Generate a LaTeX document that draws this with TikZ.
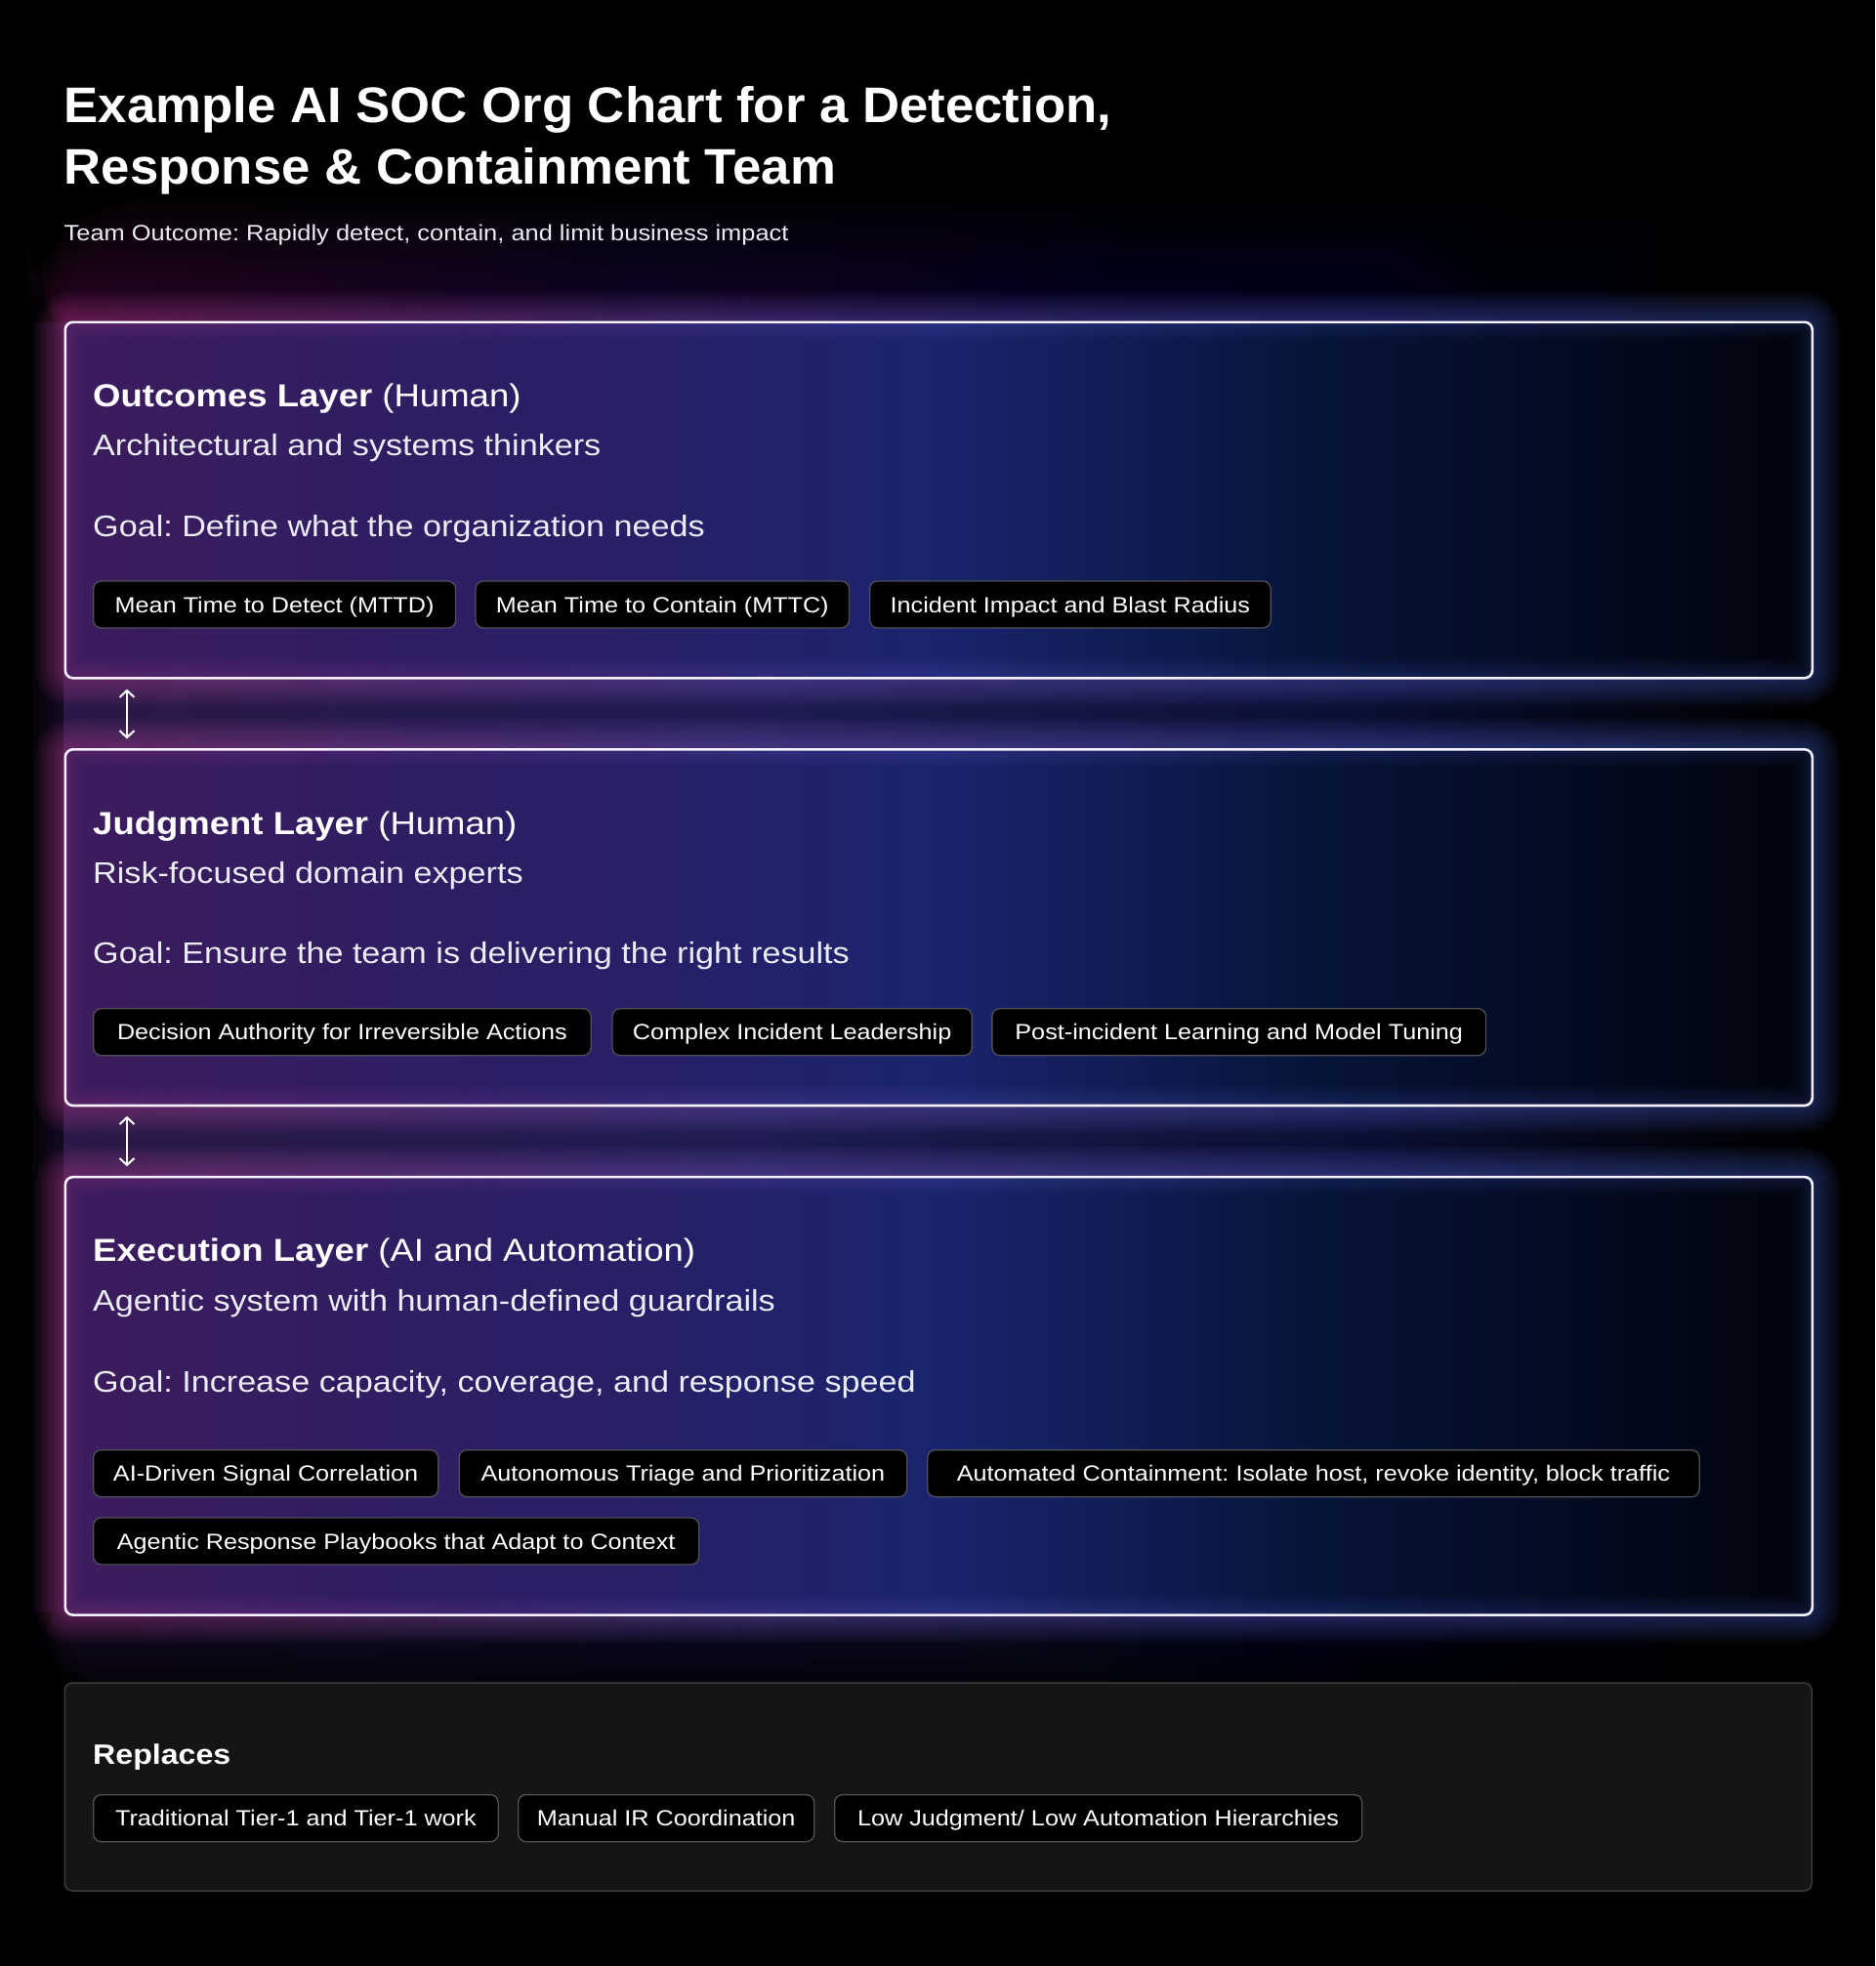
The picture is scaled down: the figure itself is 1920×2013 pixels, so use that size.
\documentclass[tikz,border=0pt]{standalone}
\usepackage{fontspec}
\setmainfont{Liberation Sans}[FakeStretch=1.12]
\newfontfamily\titlefont{Liberation Sans}[FakeStretch=1.03]
\usetikzlibrary{arrows.meta}
\frenchspacing

\definecolor{hzA}{HTML}{2C1848}
\definecolor{hzB}{HTML}{1E1C52}
\definecolor{hzC}{HTML}{0A1034}
\definecolor{htA}{HTML}{5A1A4A}
\definecolor{htB}{HTML}{2A1A58}
\definecolor{htC}{HTML}{0C1440}
\definecolor{bxA}{HTML}{3C1C5C}
\definecolor{bxB}{HTML}{2C1E64}
\definecolor{bxC}{HTML}{1A246E}
\definecolor{bxD}{HTML}{061438}
\definecolor{bxE}{HTML}{01030C}
\definecolor{glP}{HTML}{D04C9C}
\definecolor{glL}{HTML}{8A68D8}
\definecolor{glB}{HTML}{4A6CE0}
\definecolor{frame}{HTML}{F4F0FF}
\definecolor{chipgray}{HTML}{50505A}
\definecolor{repbg}{HTML}{151515}
\definecolor{repline}{HTML}{3C3C3C}
\definecolor{subtext}{HTML}{ECECF4}

\pgfdeclarehorizontalshading{hazeshade}{100bp}{color(0bp)=(hzA); color(25bp)=(hzA); color(45bp)=(hzB); color(62bp)=(hzC); color(75bp)=(black); color(100bp)=(black)}
\pgfdeclarehorizontalshading{hazetop}{100bp}{color(0bp)=(htA); color(25bp)=(htA); color(42bp)=(htB); color(62bp)=(htC); color(75bp)=(black); color(100bp)=(black)}
\pgfdeclarehorizontalshading{boxshade}{100bp}{color(0bp)=(bxA); color(25bp)=(bxA); color(37.5bp)=(bxB); color(50bp)=(bxC); color(61bp)=(bxD); color(75bp)=(bxE); color(100bp)=(bxE)}
\pgfdeclarehorizontalshading{glowshade}{100bp}{color(0bp)=(glP); color(25bp)=(glP); color(45bp)=(glL); color(75bp)=(glB); color(100bp)=(glB)}

\newcommand\glowrings[4]{%
  \foreach \d in {3,6,...,30}{%
    \pgfmathsetmacro\ro{\d+8}%
    \shade[even odd rule, shading=glowshade, fill opacity=0.045]
      [rounded corners=\ro pt] (#1-\d,#2-\d) rectangle (#3+\d,#4+\d)
      [rounded corners=8pt] (#1,#2) rectangle (#3,#4);
  }%
  \foreach \d in {3,6,...,18}{%
    \shade[even odd rule, shading=glowshade, fill opacity=0.03]
      [rounded corners=8pt] (#1,#2) rectangle (#3,#4)
      [sharp corners] (#1+\d,#2+\d) rectangle (#3-\d,#4-\d);
  }}

\begin{document}
\begin{tikzpicture}[x=1pt,y=-1pt,
  layerframe/.style={draw=frame, line width=2.6pt, rounded corners=8pt, inner sep=0pt, anchor=north west, minimum width=1789pt},
  repframe/.style={draw=repline, fill=repbg, line width=1.5pt, rounded corners=8pt, inner sep=0pt, anchor=north west, minimum width=1789pt},
  chip/.style={draw=chipgray, fill=black, line width=1.3pt, rounded corners=8pt, minimum height=48pt, inner xsep=0pt, inner ysep=0pt, text height=16.1pt, text depth=0pt, font=\fontsize{22.5}{27}\selectfont, text=white, anchor=north west},
  headtxt/.style={anchor=base west, inner sep=0pt, text=white, font=\fontsize{32.6}{38}\selectfont},
  bodytxt/.style={anchor=base west, inner sep=0pt, text=subtext, font=\fontsize{30.5}{36}\selectfont},
  updown/.style={draw=white, line width=2pt, {Straight Barb[length=7pt,width=15pt]}-{Straight Barb[length=7pt,width=15pt]}}
]
\fill[black] (0,0) rectangle (1920,2013);
\useasboundingbox (0,0) rectangle (1920,2013);

% background haze (soft stacked layers above and below, band between)
\foreach \d in {8,16,...,128}{%
  \pgfmathsetmacro\ro{\d}%
  \shade[shading=hazetop, fill opacity=0.045, rounded corners=\ro pt]
    (65.5-\d*0.3,330-\d) rectangle (1854.5+\d*0.3,360);
}
\foreach \d in {8,16,24,32}{%
  \shade[shading=hazeshade, fill opacity=0.14] (65.5-\d,330) rectangle (1854.5+\d,1650);
}
\shade[shading=hazeshade] (65.5,330) rectangle (1854.5,1650);
\foreach \d in {8,16,...,88}{%
  \pgfmathsetmacro\ro{\d}%
  \shade[shading=hazeshade, fill opacity=0.06, rounded corners=\ro pt]
    (65.5-\d*0.3,1620) rectangle (1854.5+\d*0.3,1652+\d);
}

% title
\node[anchor=base west, inner sep=0pt, align=left, text=white, font=\titlefont\bfseries\fontsize{51.2}{63}\selectfont] (title) at (65.5,188) {Example AI SOC Org Chart for a Detection,\\Response \& Containment Team};
\node[anchor=base west, inner sep=0pt, text=subtext, font=\fontsize{22.7}{27}\selectfont] (subtitle) at (65.5,246) {Team Outcome: Rapidly detect, contain, and limit business impact};

% ---------- layer 1
\shade[shading=boxshade, rounded corners=8pt] (65.5,328.5) rectangle (1854.5,693);
\glowrings{65.5}{328.5}{1854.5}{693}
\node[layerframe, minimum height=364.5pt] (L1) at (65.5,328.5) {};
\node[headtxt] (h1) at (95,416.7) {\textbf{Outcomes Layer} (Human)};
\node[bodytxt] (s1) at (95,466.9) {Architectural and systems thinkers};
\node[bodytxt] (g1) at (95,549.3) {Goal: Define what the organization needs};
\node[chip, minimum width=370.9pt] (c11) at (95,594.3) {Mean Time to Detect (MTTD)};
\node[chip, minimum width=382.5pt] (c12) at (486.4,594.3) {Mean Time to Contain (MTTC)};
\node[chip, minimum width=410.5pt] (c13) at (890,594.3) {Incident Impact and Blast Radius};

% ---------- layer 2
\shade[shading=boxshade, rounded corners=8pt] (65.5,766) rectangle (1854.5,1130.7);
\glowrings{65.5}{766}{1854.5}{1130.7}
\node[layerframe, minimum height=364.7pt] (L2) at (65.5,766) {};
\node[headtxt] (h2) at (95,854.3) {\textbf{Judgment Layer} (Human)};
\node[bodytxt] (s2) at (95,904.4) {Risk-focused domain experts};
\node[bodytxt] (g2) at (95,986.8) {Goal: Ensure the team is delivering the right results};
\node[chip, minimum width=509.5pt] (c21) at (95,1032) {Decision Authority for Irreversible Actions};
\node[chip, minimum width=368.4pt] (c22) at (626.3,1032) {Complex Incident Leadership};
\node[chip, minimum width=505.7pt] (c23) at (1015.2,1032) {Post-incident Learning and Model Tuning};

% ---------- layer 3
\shade[shading=boxshade, rounded corners=8pt] (65.5,1203.8) rectangle (1854.5,1652.3);
\glowrings{65.5}{1203.8}{1854.5}{1652.3}
\node[layerframe, minimum height=448.5pt] (L3) at (65.5,1203.8) {};
\node[headtxt] (h3) at (95,1291.7) {\textbf{Execution Layer} (AI and Automation)};
\node[bodytxt] (s3) at (95,1342) {Agentic system with human-defined guardrails};
\node[bodytxt] (g3) at (95,1425) {Goal: Increase capacity, coverage, and response speed};
\node[chip, minimum width=353pt] (c31) at (95,1484) {AI-Driven Signal Correlation};
\node[chip, minimum width=458.5pt] (c32) at (469.5,1484) {Autonomous Triage and Prioritization};
\node[chip, minimum width=790.5pt] (c33) at (949,1484) {Automated Containment: Isolate host, revoke identity, block traffic};
\node[chip, minimum width=620pt] (c34) at (95,1553.3) {Agentic Response Playbooks that Adapt to Context};

% arrows between layers
\draw[updown] ([shift={(64.5,10)}]L1.south west) -- ([shift={(64.5,-9.5)}]L2.north west);
\draw[updown] ([shift={(64.5,9.5)}]L2.south west) -- ([shift={(64.5,-9.5)}]L3.north west);

% ---------- replaces
\node[repframe, minimum height=213pt] (R) at (65.5,1722.3) {};
\node[anchor=base west, inner sep=0pt, text=white, font=\bfseries\fontsize{28.7}{34}\selectfont] (rt) at (95,1806) {Replaces};
\node[chip, minimum width=414.5pt] (r1) at (95,1837) {Traditional Tier-1 and Tier-1 work};
\node[chip, minimum width=303pt] (r2) at (530,1837) {Manual IR Coordination};
\node[chip, minimum width=540pt] (r3) at (854,1837) {Low Judgment/ Low Automation Hierarchies};
\end{tikzpicture}
\end{document}
